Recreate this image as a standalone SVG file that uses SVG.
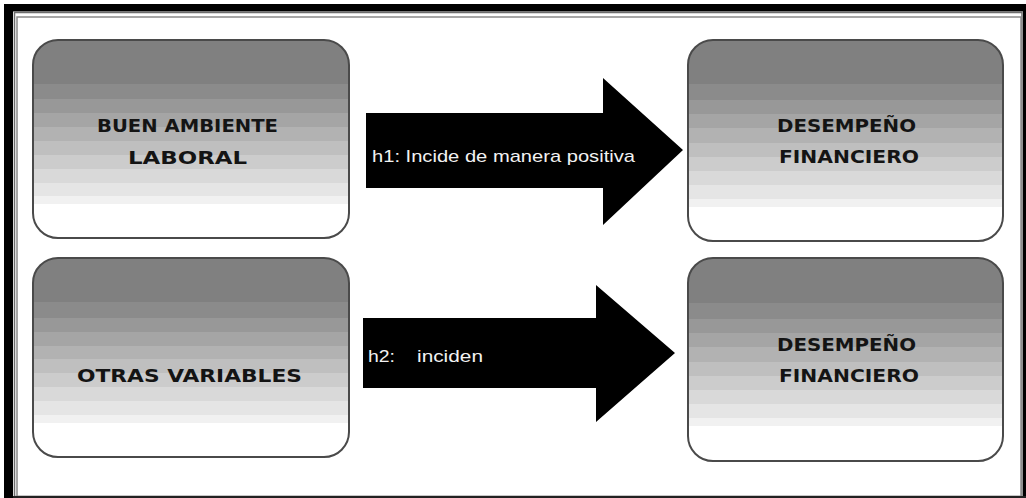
<svg xmlns="http://www.w3.org/2000/svg" width="1026" height="498" viewBox="0 0 1026 498">
  <defs>
    <linearGradient id="band" x1="0" y1="0" x2="0" y2="1">
      <stop offset="0" stop-color="#808080"/>
      <stop offset="0.22" stop-color="#808080"/>
      <stop offset="0.22" stop-color="#8b8b8b"/>
      <stop offset="0.30" stop-color="#8b8b8b"/>
      <stop offset="0.30" stop-color="#989898"/>
      <stop offset="0.37" stop-color="#989898"/>
      <stop offset="0.37" stop-color="#a5a5a5"/>
      <stop offset="0.44" stop-color="#a5a5a5"/>
      <stop offset="0.44" stop-color="#b2b2b2"/>
      <stop offset="0.51" stop-color="#b2b2b2"/>
      <stop offset="0.51" stop-color="#bfbfbf"/>
      <stop offset="0.58" stop-color="#bfbfbf"/>
      <stop offset="0.58" stop-color="#cccccc"/>
      <stop offset="0.65" stop-color="#cccccc"/>
      <stop offset="0.65" stop-color="#d9d9d9"/>
      <stop offset="0.72" stop-color="#d9d9d9"/>
      <stop offset="0.72" stop-color="#e5e5e5"/>
      <stop offset="0.79" stop-color="#e5e5e5"/>
      <stop offset="0.79" stop-color="#f1f1f1"/>
      <stop offset="0.83" stop-color="#f1f1f1"/>
      <stop offset="0.83" stop-color="#ffffff"/>
      <stop offset="1" stop-color="#ffffff"/>
    </linearGradient>
  </defs>
  <style>
    .box { fill: url(#band); stroke: #4a4a4a; stroke-width: 2; }
    .lbl { font-family: "DejaVu Sans", "Liberation Sans", sans-serif; font-weight: bold; font-size: 18px; fill: #141414; text-anchor: start; }
    .arrow { fill: #000; }
    .atxt { font-family: "Liberation Sans", Arial, sans-serif; font-size: 17px; fill: #f2f2f2; }
  </style>
  <rect x="0" y="0" width="1026" height="498" fill="#fff"/>
  <g id="frame">
    <rect x="4" y="4" width="9" height="494" fill="#000"/>
    <rect x="4" y="4" width="1022" height="7.5" fill="#000"/>
    <rect x="1023" y="4" width="3" height="494" fill="#000"/>
    <rect x="14.5" y="12.5" width="1007.5" height="484" fill="none" stroke="#6e6e6e" stroke-width="1.5"/>
    <rect x="17" y="17" width="1004" height="479.5" fill="none" stroke="#8a8a8a" stroke-width="1.5"/>
    <line x1="13" y1="497" x2="1026" y2="497" stroke="#222" stroke-width="2"/>
  </g>
  <g id="node-buen-ambiente">
    <rect class="box" x="33" y="40" width="316" height="198" rx="25"/>
    <text class="lbl" x="97" y="132" textLength="181" lengthAdjust="spacingAndGlyphs">BUEN AMBIENTE</text>
    <text class="lbl" x="128" y="164" textLength="119" lengthAdjust="spacingAndGlyphs">LABORAL</text>
  </g>
  <g id="node-desempeno-1">
    <rect class="box" x="688" y="40" width="315" height="201" rx="25"/>
    <text class="lbl" x="777" y="132" textLength="139" lengthAdjust="spacingAndGlyphs">DESEMPEÑO</text>
    <text class="lbl" x="779" y="163" textLength="140" lengthAdjust="spacingAndGlyphs">FINANCIERO</text>
  </g>
  <g id="node-otras-variables">
    <rect class="box" x="33" y="258" width="316" height="199" rx="25"/>
    <text class="lbl" x="77" y="382" textLength="225" lengthAdjust="spacingAndGlyphs">OTRAS VARIABLES</text>
  </g>
  <g id="node-desempeno-2">
    <rect class="box" x="688" y="258" width="315" height="203" rx="25"/>
    <text class="lbl" x="777" y="351" textLength="139" lengthAdjust="spacingAndGlyphs">DESEMPEÑO</text>
    <text class="lbl" x="779" y="382" textLength="140" lengthAdjust="spacingAndGlyphs">FINANCIERO</text>
  </g>
  <g id="connectors">
    <g id="arrow-h1">
      <polygon class="arrow" points="366,113 603,113 603,78 683,150 603,225 603,188 366,188"/>
      <text class="atxt" x="372" y="162" textLength="263" lengthAdjust="spacingAndGlyphs">h1: Incide de manera positiva</text>
    </g>
    <g id="arrow-h2">
      <polygon class="arrow" points="363,318 596,318 596,285 675,353 596,422 596,388 363,388"/>
      <text class="atxt" x="368" y="362" textLength="27" lengthAdjust="spacingAndGlyphs">h2:</text>
      <text class="atxt" x="417" y="362" textLength="66" lengthAdjust="spacingAndGlyphs">inciden</text>
    </g>
  </g>
</svg>
